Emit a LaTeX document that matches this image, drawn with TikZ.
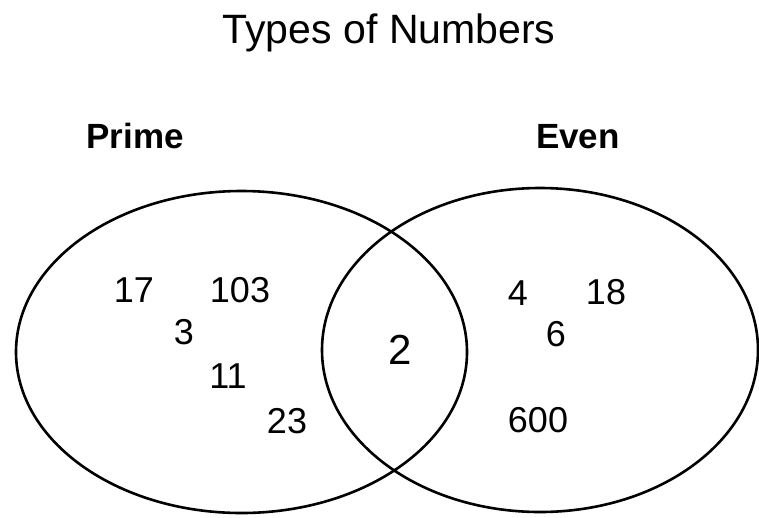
\documentclass[tikz,border=0pt]{standalone}
\usepackage{fontspec}
\setmainfont{Liberation Sans}
\usepackage{tikz}
\usetikzlibrary{shapes.geometric}

\begin{document}
\begin{tikzpicture}[
    x=1pt, y=-1pt,
    sets/.style={ellipse, draw=black, line width=2.6pt, inner sep=0pt},
    heading/.style={font=\fontsize{41}{48}\selectfont, anchor=base},
    setname/.style={font=\bfseries\fontsize{35}{40}\selectfont, anchor=base},
    num/.style={font=\fontsize{36}{40}\selectfont, inner sep=0pt}
]
\useasboundingbox (0,0) rectangle (759,517);

\node[heading] (title) at (389,43) {Types of Numbers};

\node[sets, minimum width=451pt, minimum height=322pt] (prime) at (241.5,352) {};
\node[sets, minimum width=436pt, minimum height=324pt] (even) at (540,350) {};

\node[setname] (primename) at (135,148) {Prime};
\node[setname] (evenname) at (578,148) {Even};

\node[num] (n17) at (134,290) {17};
\node[num] (n103) at (240,290) {103};
\node[num] (n3) at (184,332) {3};
\node[num] (n11) at (228,376) {11};
\node[num] (n23) at (287,421) {23};

\node[num, font=\fontsize{42}{46}\selectfont] (n2) at (400,350) {2};

\node[num] (n4) at (518,293) {4};
\node[num] (n18) at (606,292) {18};
\node[num] (n6) at (556,334) {6};
\node[num] (n600) at (538,420) {600};

\end{tikzpicture}
\end{document}
